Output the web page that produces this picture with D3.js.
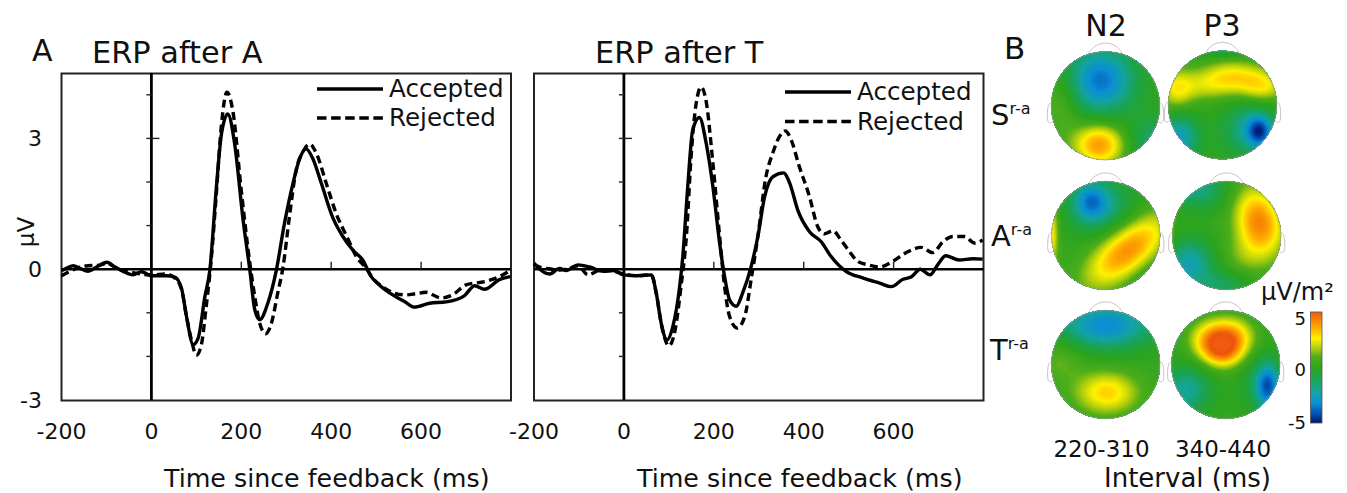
<!DOCTYPE html>
<html><head><meta charset="utf-8">
<script src="https://cdn.jsdelivr.net/npm/d3@7"></script>
<style>
html,body{margin:0;padding:0;background:#fff}
svg{display:block}
text{font-family:"DejaVu Sans",sans-serif;fill:#111}
</style></head><body>
<svg id="c" width="1347" height="493"></svg>
<script>
// ---------- ERP traces: time in ms, amplitude in microvolts ----------
const acceptedA = [[-200,-.03],[-189,.02],[-174,.08],[-159,.02],[-141,-.05],[-122,.05],[-99,.16],[-81,.05],[-63,-.05],[-41,-.13],[-22,-.06],[0,-.15],[33,-.15],[52,-.18],[67,-.44],[78,-1.08],[93,-1.73],[104,-1.58],[119,-.63],[130,-.02],[144,1.81],[156,3.11],[170,3.56],[185,2.89],[204,1.13],[219,-.02],[230,-.93],[241,-1.16],[259,-.78],[278,-.02],[296,1.05],[315,1.97],[330,2.54],[344,2.76],[359,2.54],[378,1.97],[404,1.17],[426,.75],[448,.44],[470,.21],[489,-.17],[507,-.36],[537,-.59],[563,-.74],[585,-.87],[619,-.78],[656,-.75],[696,-.61],[719,-.38],[741,-.46],[774,-.24],[798,-.17]];
const rejectedA = [[-200,-.15],[-181,-.05],[-159,.05],[-141,.08],[-115,.09],[-99,.14],[-78,.02],[-41,-.08],[0,-.13],[33,-.11],[52,-.2],[67,-.46],[78,-1.08],[89,-1.62],[100,-1.97],[111,-1.74],[122,-.85],[133,.21],[144,1.66],[156,3.33],[168,4.06],[181,3.64],[200,1.8],[219,.14],[230,-.63],[241,-1.24],[254,-1.48],[267,-1.24],[281,-.55],[293,.06],[307,1.2],[322,2.27],[337,2.69],[352,2.87],[367,2.66],[389,1.97],[411,1.28],[437,.7],[456,.29],[478,.02],[493,-.21],[511,-.38],[541,-.55],[567,-.59],[589,-.56],[611,-.53],[644,-.66],[670,-.59],[700,-.36],[744,-.28],[774,-.17],[798,-.03]];
const acceptedT = [[-200,.14],[-187,0],[-165,-.11],[-143,.02],[-128,-.03],[-102,.1],[-76,.05],[-46,-.05],[-24,-.03],[0,-.13],[31,-.15],[61,-.13],[72,-.55],[83,-1.24],[96,-1.62],[109,-1.31],[124,-.4],[131,.29],[142,1.89],[153,3.19],[168,3.48],[183,2.89],[198,1.89],[213,.595],[224,-.17],[235,-.7],[250,-.85],[264,-.55],[283,.06],[298,.75],[313,1.66],[331,2.12],[355,2.21],[369,1.97],[387,1.35],[413,.86],[439,.63],[461,.29],[494,-.05],[531,-.2],[569,-.32],[595,-.4],[621,-.23],[639,-.18],[659,0],[681,-.13],[698,.1],[716,.31],[746,.21],[776,.24],[798,.23]];
const rejectedT = [[-200,.1],[-187,.05],[-172,.02],[-143,-.02],[-121,.02],[-102,.08],[-80,-.13],[-54,-.03],[-32,-.03],[0,-.11],[31,-.15],[61,-.13],[72,-.55],[83,-1.24],[100,-1.76],[114,-1.39],[127,-.4],[139,.75],[150,2.66],[161,3.82],[172,4.18],[183,3.85],[198,2.43],[213,.75],[224,-.4],[235,-1.08],[252,-1.35],[269,-1.08],[283,-.24],[298,.75],[316,2.12],[331,2.66],[346,3.04],[359,3.17],[372,2.97],[390,2.36],[413,1.66],[431,.98],[446,.81],[465,.88],[483,.67],[502,.4],[520,.18],[543,.1],[569,.05],[598,.18],[628,.38],[661,.5],[687,.38],[710,.63],[732,.75],[758,.75],[780,.6],[798,.67]];

const xTickValues = [-200,0,200,400,600];
const xTickInner = [200,400,600];
const yTickValues = [-2,-1,1,2,3,4];
const yTickLabels = [-3,0,3];
const seriesNames = ["Accepted","Rejected"];

// ---------- scalp maps: [u, v, amplitude, spreadU, spreadV, rotationDeg] on the unit head ----------
const mapSN2 = [[-.09,-.47,-3.8,.43,.42,0],[-.12,.72,3.7,.33,.27,0],[-.8,-.05,1,.25,.45,0],[.85,.65,-1.6,.3,.3,0]];
const mapSP3 = [[.2,-.55,2.2,.42,.2,0],[-.85,-.28,1.9,.22,.28,0],[-.3,-.34,1.5,.45,.2,0],[.75,-.33,2.1,.3,.2,0],[.69,.49,-3.2,.16,.2,0],[.5,.45,-2.2,.33,.33,0],[-.8,.6,-2.8,.25,.3,0],[0,-1.1,-2,.4,.12,0]];
const mapAN2 = [[-.28,-.63,-2.3,.22,.25,0],[-.1,-.55,-1.9,.42,.35,0],[.4,.28,3.9,.65,.3,-39],[-1.05,-.05,3,.12,.5,0],[.9,.9,-.7,.3,.3,0]];
const mapAP3 = [[.6,-.25,4,.3,.45,-15],[-.68,.51,-2.6,.3,.3,0],[-.5,-.85,-1.9,.35,.25,0],[-.06,.91,-1.4,.35,.2,0],[-1.08,-.15,2.5,.07,.45,0],[.3,.4,.9,.3,.3,0]];
const mapTN2 = [[0,-.72,-3.5,.6,.3,0],[.02,.52,2.8,.4,.27,0],[-.83,-.08,.9,.3,.3,0]];
const mapTP3 = [[-.27,-.45,3.1,.28,.25,0],[.13,-.5,3.1,.28,.25,0],[-.05,-.2,2.4,.25,.2,0],[.78,.41,-3,.15,.28,0],[.7,.35,-1.5,.25,.35,0],[-.72,.47,-2.2,.3,.3,0]];
const mapBaselines = [.2,.2,.2,.25,.3,.2];
const mapTitles = ["N2","P3"];
const rowLabels = ["S","A","T"];
const intervalLabels = ["220-310","340-440"];

// colour bar stops: value, colour
const colorValues = [-5,-4.2,-3.2,-2.2,-1,0,1,1.8,2.6,3.6,5];
const colorHexes = ["#07156b","#0050b0","#0d8fd6","#15a5a5","#1da550","#2da51f","#4fae1c","#b5d010","#fff200","#ffa900","#ee5a10"];

const svg = d3.select("#c");

function drawPanel(o){
  const x = d3.scaleLinear().domain([-200,800]).range([o.left,o.right]);
  const y = d3.scaleLinear().domain([-3,4.5]).range([400,73]);
  const g = svg.append("g");
  g.append("rect").attr("x",o.left).attr("y",73.5).attr("width",o.right-o.left).attr("height",327)
    .attr("fill","none").attr("stroke","#222").attr("stroke-width",2);
  g.append("line").attr("x1",x(-200)).attr("x2",x(800)).attr("y1",y(0)).attr("y2",y(0)).attr("stroke","#000").attr("stroke-width",2.6);
  g.append("line").attr("x1",x(0)).attr("x2",x(0)).attr("y1",73).attr("y2",400).attr("stroke","#000").attr("stroke-width",2.8);
  g.selectAll(".xt").data(xTickInner).join("line").attr("x1",d=>x(d)).attr("x2",d=>x(d)).attr("y1",y(0)).attr("y2",y(0)-7.5).attr("stroke","#222").attr("stroke-width",1.4);
  g.selectAll(".yt").data(yTickValues).join("line").attr("x1",x(0)-5).attr("x2",d=>d===3?x(0)+8:x(0)).attr("y1",d=>y(d)).attr("y2",d=>y(d)).attr("stroke","#222").attr("stroke-width",1.4);
  g.selectAll(".xl").data(xTickValues).join("text").attr("x",d=>x(d)).attr("y",439).attr("text-anchor","middle").attr("font-size",22).text(d=>d);
  if(o.yLabels){
    g.selectAll(".yl").data(yTickLabels).join("text").attr("x",42).attr("y",d=>y(d)+8).attr("text-anchor","end").attr("font-size",22).text(d=>d);
    g.append("text").attr("transform","translate(34,232) rotate(-90)").attr("text-anchor","middle").attr("font-size",23).text("µV");
  }
  g.append("text").attr("x",o.titleX).attr("y",63).attr("font-size",30.4).text(o.title);
  g.append("text").attr("x",o.xLabelX).attr("y",487).attr("font-size",25.3).text("Time since feedback (ms)");
  const line = d3.line().x(d=>x(d[0])).y(d=>y(d[1])).curve(d3.curveMonotoneX);
  g.append("path").attr("d",line(o.rej)).attr("fill","none").attr("stroke","#000").attr("stroke-width",3.4).attr("stroke-dasharray","8 4.5");
  g.append("path").attr("d",line(o.acc)).attr("fill","none").attr("stroke","#000").attr("stroke-width",3.4);
  seriesNames.forEach((n,i)=>{
    const ly=o.legendY+i*o.legendGap;
    g.append("line").attr("x1",o.legendX).attr("x2",o.legendX+66).attr("y1",ly).attr("y2",ly).attr("stroke","#000").attr("stroke-width",3.4).attr("stroke-dasharray",i?"9.5 4.6":null);
    g.append("text").attr("x",o.legendX+72).attr("y",ly+8).attr("font-size",24.6).text(n);
  });
}
drawPanel({left:61.5,right:511,title:"ERP after A",titleX:92,xLabelX:164,acc:acceptedA,rej:rejectedA,legendX:317,legendY:89,legendGap:29,yLabels:true});
drawPanel({left:534,right:983.5,title:"ERP after T",titleX:595,xLabelX:637,acc:acceptedT,rej:rejectedT,legendX:785,legendY:92,legendGap:29.5,yLabels:false});
svg.append("text").attr("x",32).attr("y",61).attr("font-size",30).text("A");
svg.append("text").attr("x",1004).attr("y",59).attr("font-size",31).text("B");

// ---------- scalp maps ----------
const colorScale = d3.scaleLinear().domain(colorValues).range(colorHexes).clamp(true);
const mapCentres = [[1105.5,105.7],[1222.5,105],[1105.8,235.5],[1226.7,235.5],[1105.7,364.5],[1225.7,364.5]];
const mapSources = [mapSN2,mapSP3,mapAN2,mapAP3,mapTN2,mapTP3];
const thresholds = d3.range(-5.5,5.6,.12);
const defs = svg.append("defs");
const N = 110;
mapSources.forEach((src,i)=>{
  const [cx,cy]=mapCentres[i], r=54.3, base=mapBaselines[i];
  const vals = new Float64Array(N*N);
  for(let j=0;j<N;j++)for(let k=0;k<N;k++){
    const u=(k+.5)/N*2.2-1.1, v=(j+.5)/N*2.2-1.1;
    let s=base;
    for(const [a,b,amp,su,sv,rot] of src){
      const t=rot*Math.PI/180, dx=u-a, dy=v-b;
      const p=dx*Math.cos(t)+dy*Math.sin(t), q=-dx*Math.sin(t)+dy*Math.cos(t);
      s+=amp*Math.exp(-(p*p)/(2*su*su)-(q*q)/(2*sv*sv));
    }
    vals[j*N+k]=s;
  }
  const id="clip"+i;
  defs.append("clipPath").attr("id",id).append("circle").attr("cx",cx).attr("cy",cy).attr("r",r);
  const scale=r*2.2/N;
  const g=svg.append("g");
  g.append("path").attr("d",`M${cx-r*.31},${cy-r*.95} C${cx-r*.2},${cy-r*1.22} ${cx+r*.2},${cy-r*1.22} ${cx+r*.31},${cy-r*.95}`).attr("fill","none").attr("stroke","#c4c4c4").attr("stroke-width",1);
  [-1,1].forEach(sg=>{
    g.append("path").attr("d",`M${cx+sg*r*.99},${cy-r*.05} C${cx+sg*r*1.07},${cy-r*.07} ${cx+sg*r*1.07},${cy+r*.1} ${cx+sg*r*1.07},${cy+r*.22} C${cx+sg*r*1.07},${cy+r*.34} ${cx+sg*r*1.0},${cy+r*.34} ${cx+sg*r*.96},${cy+r*.27}`).attr("fill","none").attr("stroke","#c4c4c4").attr("stroke-width",1);
  });
  const area=g.append("g").attr("clip-path",`url(#${id})`);
  area.append("circle").attr("cx",cx).attr("cy",cy).attr("r",r).attr("fill",colorScale(base));
  const cs=d3.contours().size([N,N]).thresholds(thresholds).smooth(true)(vals);
  const geo=d3.geoPath(d3.geoTransform({point(px,py){this.stream.point(cx-r*1.1+px*scale,cy-r*1.1+py*scale);}}));
  area.selectAll("path").data(cs).join("path").attr("d",geo).attr("fill",d=>colorScale(d.value)).attr("stroke",d=>colorScale(d.value)).attr("stroke-width",.3);
  g.append("circle").attr("cx",cx).attr("cy",cy).attr("r",r).attr("fill","none").attr("stroke","#999").attr("stroke-width",.7);
});

// ---------- panel B text ----------
const colX=[1106,1222];
svg.selectAll(".mt").data(mapTitles).join("text").attr("x",(d,i)=>colX[i]).attr("y",36).attr("text-anchor","middle").attr("font-size",30).text(d=>d);
const rowY=[125,246,360], rowX=[991,991,990];
rowLabels.forEach((l,i)=>{
  const t=svg.append("text").attr("x",rowX[i]).attr("y",rowY[i]).attr("font-size",29);
  t.append("tspan").text(l);
  t.append("tspan").attr("font-size",16).attr("dy",-11).text("r-a");
});
svg.selectAll(".il").data(intervalLabels).join("text").attr("x",(d,i)=>[1101.5,1223][i]).attr("y",457).attr("text-anchor","middle").attr("font-size",23).text(d=>d);
svg.append("text").attr("x",1104).attr("y",487).attr("font-size",26).text("Interval (ms)");

// ---------- colour bar ----------
const barY=d3.scaleLinear().domain([-5,5]).range([423,312]);
const gradId="cb";
const grad=defs.append("linearGradient").attr("id",gradId).attr("x1",0).attr("x2",0).attr("y1",1).attr("y2",0);
colorValues.forEach((v,i)=>grad.append("stop").attr("offset",(v+5)/10).attr("stop-color",colorHexes[i]));
svg.append("rect").attr("x",1310.5).attr("y",barY(5)).attr("width",11.5).attr("height",barY(-5)-barY(5)).attr("fill",`url(#${gradId})`).attr("stroke","#555").attr("stroke-width",.8);
svg.selectAll(".cl").data([5,0,-5]).join("text").attr("x",1306).attr("y",(d,i)=>[325,376,429][i]).attr("text-anchor","end").attr("font-size",18).text(d=>d);
svg.append("text").attr("x",1261).attr("y",300).attr("font-size",24).text("µV/m²");
</script>
</body></html>
